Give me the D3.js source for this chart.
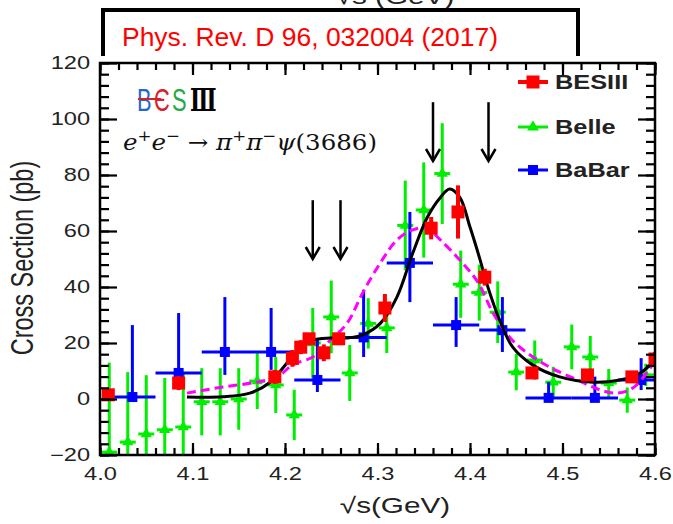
<!DOCTYPE html>
<html><head><meta charset="utf-8">
<script src="https://cdn.jsdelivr.net/npm/d3@7/dist/d3.min.js"></script>
<style>body{margin:0;background:#fff}svg{display:block}</style>
</head><body>
<svg id="c" width="673" height="524"></svg>
<script>
// ---------- data ----------
const besX   = [4.009,4.085,4.189,4.208,4.217,4.226,4.242,4.258,4.308,4.358,4.387,4.416,4.467,4.527,4.575,4.600];
const besY   = [1.5,5.7,7.9,14.5,18.5,21.5,16.5,21.5,32.5,61.0,66.8,43.5,9.3,8.6,7.9,14.3];
const besErr = [2,2.5,2.5,3,2.5,1.5,3,1.5,5,4,9.5,3,2,1.5,1.5,2.5];

const belleX   = [4.01,4.03,4.05,4.07,4.09,4.11,4.13,4.15,4.17,4.19,4.21,4.23,4.25,4.27,4.29,4.31,4.33,4.35,4.37,4.39,4.41,4.43,4.45,4.47,4.49,4.51,4.53,4.55,4.57,4.59];
const belleY   = [-19,-15.4,-12.5,-11,-10,-1,-1,0,6.4,5,-5.7,20,29.3,9.3,27,25.4,62,67.5,80.5,41,38,31,9.6,13.9,6,18.6,15,5.7,-0.4,8.6];
const belleErr = [32,25,21,18.5,19.5,12,12,11,10,10,9,12.5,13,10,9,9,16,17,18,12,10,11,6.5,7,5.5,8,7.5,5,4.5,4];

const babarX    = [4.035,4.085,4.135,4.185,4.235,4.285,4.335,4.385,4.435,4.485,4.535,4.585];
const babarY    = [0.7,9.3,16.8,16.8,6.8,22,48.6,26.4,24.6,0.4,0.4,6.8];
const babarErrHi= [25.7,21.4,19.6,15.7,14.2,17,18.2,10,11.8,5.6,7.6,7.8];
const babarErrLo= [0.7,6.1,8.2,6.4,4.3,7,14,7.8,7.8,0.4,0.4,3.6];
const babarHalfBin = 0.025;

const fitSolidX = [4.094,4.133,4.162,4.184,4.195,4.205,4.213,4.230,4.249,4.267,4.284,4.303,4.321,4.338,4.354,4.368,4.378,4.389,4.400,4.411,4.418,4.432,4.446,4.468,4.497,4.533,4.562,4.584,4.597];
const fitSolidY = [0.7,0.8,2.1,6.0,10.0,14.0,16.8,21.0,21.8,21.8,22.9,27.0,36.4,52.0,65.0,72.0,75.0,72.0,61.4,49.6,41.4,28.2,18.6,12.1,7.9,6.0,6.8,9.3,12.9];

const fitDashX = [4.094,4.133,4.169,4.192,4.205,4.213,4.230,4.249,4.267,4.284,4.303,4.321,4.338,4.353,4.368,4.389,4.408,4.425,4.443,4.462,4.486,4.516,4.541,4.559,4.576,4.591,4.597];
const fitDashY = [2.1,4.3,6.0,8.0,11.4,12.9,15.0,21.0,27.0,37.9,48.6,56.8,60.4,61.0,56.8,49.6,42.0,30.7,22.0,16.4,11.4,6.8,3.2,2.1,3.9,9.3,12.1];

const arrowX   = [4.23,4.26,4.36,4.42];
const arrowTop = [71,71,106,106];
const arrowBot = [50,50,85,85];

const xTickValues = [4.0,4.1,4.2,4.3,4.4,4.5,4.6];
const xTickLabels = ["4.0","4.1","4.2","4.3","4.4","4.5","4.6"];
const yTickValues = [-20,0,20,40,60,80,100,120];
const yTickLabels = ["\u221220","0","20","40","60","80","100","120"];
const legendLabels = ["BESIII","Belle","BaBar"];
const xTitle = "\u221As(GeV)";
const yTitle = "Cross Section (pb)";
const refText = "Phys. Rev. D 96, 032004 (2017)";
const logoParts = ["B","\u0404","S","\u2162"];

// ---------- drawing ----------
const svg = d3.select("#c");
const x = d3.scaleLinear().domain([4.0,4.6]).range([100,655]);
const y = d3.scaleLinear().domain([-20,120]).range([455,63]);
const SX = 1.35;
const FONT = "'Liberation Sans', Arial, Helvetica, sans-serif";
const RED="#ff0000", GREEN="#00ee00", BLUE="#0000ff", MAG="#ff00ff";

// cut title of plot above
svg.append("text").attr("transform","translate(395,4) scale("+SX+",1)")
  .attr("text-anchor","middle").attr("font-family",FONT).attr("font-size",22).attr("fill","#222")
  .text("\u221As (GeV)");

// reference box
svg.append("path").attr("d","M103,56 V10 H578 V56").attr("fill","none").attr("stroke","#000").attr("stroke-width",4);
svg.append("text").attr("x",122).attr("y",46).attr("font-family",FONT).attr("font-size",25)
  .attr("fill",RED).attr("textLength",376).attr("lengthAdjust","spacingAndGlyphs").text(refText);

svg.append("rect").attr("x",99).attr("y",57).attr("width",560).attr("height",400).attr("fill","#fff");

svg.append("clipPath").attr("id","clip").append("rect")
  .attr("x",100).attr("y",63).attr("width",555).attr("height",392);
const plot = svg.append("g").attr("clip-path","url(#clip)");

// Belle
const belle = plot.append("g");
belleX.forEach((bx,i)=>{
  const g = belle.append("g");
  g.append("line").attr("x1",x(bx)).attr("x2",x(bx)).attr("y1",y(belleY[i]-belleErr[i])).attr("y2",y(belleY[i]+belleErr[i]))
    .attr("stroke",GREEN).attr("stroke-width",3);
  g.append("line").attr("x1",x(bx)-8).attr("x2",x(bx)+8).attr("y1",y(belleY[i])).attr("y2",y(belleY[i]))
    .attr("stroke",GREEN).attr("stroke-width",3);
  g.append("path").attr("d",d3.symbol(d3.symbolTriangle,55)())
    .attr("transform","translate("+x(bx)+","+y(belleY[i])+")").attr("fill",GREEN);
});

// BaBar
const babar = plot.append("g");
babarX.forEach((bx,i)=>{
  babar.append("line").attr("x1",x(bx-babarHalfBin)).attr("x2",x(bx+babarHalfBin)).attr("y1",y(babarY[i])).attr("y2",y(babarY[i]))
    .attr("stroke",BLUE).attr("stroke-width",3);
  babar.append("line").attr("x1",x(bx)).attr("x2",x(bx)).attr("y1",y(babarY[i]-babarErrLo[i])).attr("y2",y(babarY[i]+babarErrHi[i]))
    .attr("stroke",BLUE).attr("stroke-width",3);
  babar.append("rect").attr("x",x(bx)-5).attr("y",y(babarY[i])-5).attr("width",10).attr("height",10).attr("fill",BLUE);
});

// fit curves
const lineGen = d3.line().x(d=>x(d[0])).y(d=>y(d[1])).curve(d3.curveCatmullRom);
plot.append("path").datum(fitDashX.map((v,i)=>[v,fitDashY[i]])).attr("d",lineGen)
  .attr("fill","none").attr("stroke",MAG).attr("stroke-width",3).attr("stroke-dasharray","9,5");
plot.append("path").datum(fitSolidX.map((v,i)=>[v,fitSolidY[i]])).attr("d",lineGen)
  .attr("fill","none").attr("stroke","#000").attr("stroke-width",3);

// BESIII
const bes = plot.append("g");
besX.forEach((bx,i)=>{
  bes.append("line").attr("x1",x(bx)).attr("x2",x(bx)).attr("y1",y(besY[i]-besErr[i])).attr("y2",y(besY[i]+besErr[i]))
    .attr("stroke",RED).attr("stroke-width",4);
  bes.append("rect").attr("x",x(bx)-6.5).attr("y",y(besY[i])-6.5).attr("width",13).attr("height",13).attr("fill",RED);
});

// arrows
arrowX.forEach((ax,i)=>{
  const px=x(ax), yt=y(arrowTop[i]), yb=y(arrowBot[i]);
  svg.append("line").attr("x1",px).attr("x2",px).attr("y1",yt).attr("y2",yb).attr("stroke","#000").attr("stroke-width",2.5);
  svg.append("path").attr("d","M"+(px-7)+","+(yb-12)+" L"+px+","+yb+" L"+(px+7)+","+(yb-12))
    .attr("fill","none").attr("stroke","#000").attr("stroke-width",2.5);
});

// frame
svg.append("rect").attr("x",100).attr("y",63).attr("width",555).attr("height",392)
  .attr("fill","none").attr("stroke","#000").attr("stroke-width",2.5);

const xMinor = d3.range(0,31).map(k=>4.0+k*0.02);
const yMinor = d3.range(0,36).map(k=>-20+k*4);
function styleAxis(g){ g.select(".domain").remove(); g.selectAll("line").attr("stroke","#000").attr("stroke-width",2.2); }

svg.append("g").attr("transform","translate(0,455)").call(d3.axisBottom(x).tickValues(xMinor).tickSize(-7).tickFormat("")).call(styleAxis);
svg.append("g").attr("transform","translate(0,63)").call(d3.axisTop(x).tickValues(xMinor).tickSize(-7).tickFormat("")).call(styleAxis);
svg.append("g").attr("transform","translate(0,63)").call(d3.axisTop(x).tickValues(xTickValues).tickSize(-12).tickFormat("")).call(styleAxis);
svg.append("g").attr("transform","translate(100,0)").call(d3.axisLeft(y).tickValues(yMinor).tickSize(-9).tickFormat("")).call(styleAxis);
svg.append("g").attr("transform","translate(655,0)").call(d3.axisRight(y).tickValues(yMinor).tickSize(-9).tickFormat("")).call(styleAxis);
svg.append("g").attr("transform","translate(655,0)").call(d3.axisRight(y).tickValues(yTickValues).tickSize(-17).tickFormat("")).call(styleAxis);

const xAx = svg.append("g").attr("transform","translate(0,455)")
  .call(d3.axisBottom(x).tickValues(xTickValues).tickSize(-12).tickPadding(13).tickFormat((d,i)=>xTickLabels[i])).call(styleAxis);
xAx.selectAll("text").attr("font-family",FONT).attr("font-size",17.5).attr("fill","#222").attr("transform","scale("+SX+",1)");
const yAx = svg.append("g").attr("transform","translate(100,0)")
  .call(d3.axisLeft(y).tickValues(yTickValues).tickSize(-17).tickPadding(7.4).tickFormat((d,i)=>yTickLabels[i])).call(styleAxis);
yAx.selectAll("text").attr("font-family",FONT).attr("font-size",17.5).attr("fill","#222").attr("transform","scale("+SX+",1)");

// axis titles
svg.append("text").attr("transform","translate(395,513) scale("+SX+",1)").attr("text-anchor","middle")
  .attr("font-family",FONT).attr("font-size",22).attr("fill","#222").text(xTitle);
svg.append("text").attr("transform","translate(33,258) scale("+SX+",1) rotate(-90)").attr("text-anchor","middle")
  .attr("font-family",FONT).attr("font-size",23.5).attr("fill","#222").text(yTitle);

// legend
const legColors=[RED,GREEN,BLUE], legY=[82,127,170];
legendLabels.forEach((lab,i)=>{
  const g=svg.append("g");
  g.append("line").attr("x1",518).attr("x2",548).attr("y1",legY[i]).attr("y2",legY[i]).attr("stroke",legColors[i]).attr("stroke-width",i===0?4:3);
  if(i===1) g.append("path").attr("d",d3.symbol(d3.symbolTriangle,60)()).attr("transform","translate(533,"+legY[i]+")").attr("fill",GREEN);
  else { const s=i===0?13:10; g.append("rect").attr("x",533-s/2).attr("y",legY[i]-s/2).attr("width",s).attr("height",s).attr("fill",legColors[i]); }
  g.append("text").attr("transform","translate(555,"+(legY[i]+7)+") scale(1.3,1)").attr("font-family",FONT)
    .attr("font-weight","bold").attr("font-size",19.5).attr("fill","#222").text(lab);
});

// BESIII logo (separate glyphs, vertically stretched)
const logoX=[137,154,172,190], logoCol=["#2166cc","#d8202a","#22aa44","#000"];
logoParts.forEach((t,i)=>{
  svg.append("text").attr("transform","translate("+logoX[i]+",111) scale(0.95,1.35)").attr("font-size",23)
    .attr("font-family",i===3?"'DejaVu Serif', serif":FONT).attr("font-weight",i===3?"bold":"normal")
    .attr("fill",logoCol[i]).text(t);
});
svg.append("line").attr("x1",138).attr("x2",161).attr("y1",99).attr("y2",99).attr("stroke","#d8202a").attr("stroke-width",2);

// reaction formula
const f = svg.append("text").attr("x",123).attr("y",150).attr("font-family","'DejaVu Serif', serif").attr("font-size",22)
  .attr("fill","#111").attr("textLength",254).attr("lengthAdjust","spacingAndGlyphs");
f.append("tspan").attr("font-style","italic").text("e");
f.append("tspan").attr("dy",-9).attr("font-size",15).text("+");
f.append("tspan").attr("dy",9).attr("font-style","italic").text("e");
f.append("tspan").attr("dy",-9).attr("font-size",15).text("\u2212");
f.append("tspan").attr("dy",9).text(" \u2192 ");
f.append("tspan").attr("font-style","italic").text("\u03C0");
f.append("tspan").attr("dy",-9).attr("font-size",15).text("+");
f.append("tspan").attr("dy",9).attr("font-style","italic").text("\u03C0");
f.append("tspan").attr("dy",-9).attr("font-size",15).text("\u2212");
f.append("tspan").attr("dy",9).attr("font-style","italic").text("\u03C8");
f.append("tspan").text("(3686)");
</script>
</body></html>
